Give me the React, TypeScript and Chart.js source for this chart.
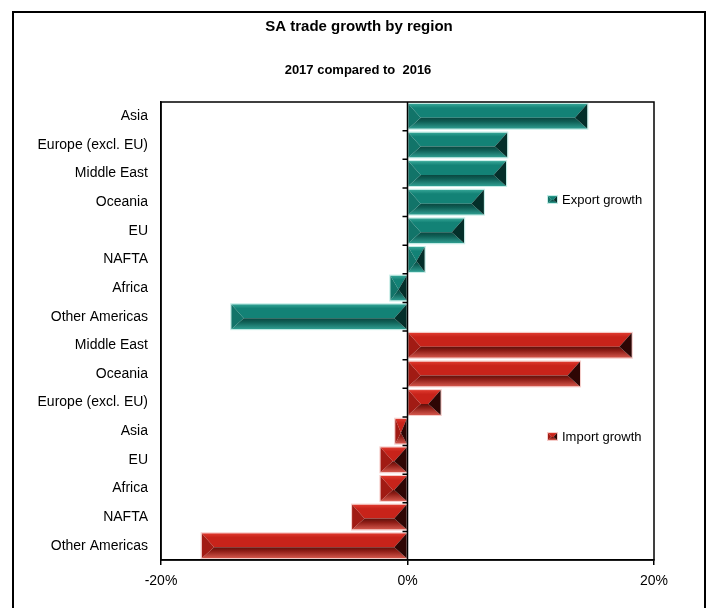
import React, { useEffect, useRef } from "react";
import { Chart, registerables } from "chart.js";

Chart.register(...registerables);

const categories = [
  "Asia",
  "Europe (excl. EU)",
  "Middle East",
  "Oceania",
  "EU",
  "NAFTA",
  "Africa",
  "Other Americas",
  "Middle East",
  "Oceania",
  "Europe (excl. EU)",
  "Asia",
  "EU",
  "Africa",
  "NAFTA",
  "Other Americas",
];

const exportGrowth = [14.6, 8.1, 8.0, 6.2, 4.6, 1.4, -1.4, -14.3, null, null, null, null, null, null, null, null];
const importGrowth = [null, null, null, null, null, null, null, null, 18.2, 14.0, 2.7, -1.0, -2.2, -2.2, -4.5, -16.7];
const xTicks = [-20, 0, 20];
const seriesNames = ["Export growth", "Import growth"];
const titleText = "SA trade growth by region";
const subtitleText = "2017 compared to  2016";

const FONT = "'Liberation Sans', Arial, sans-serif";

type Pal = { topA: string; topB: string; ridge: string; botA: string; botB: string; left: string; right: string; edge: string };
const palettes: Pal[] = [
  { topA: "#35a596", topB: "#138276", ridge: "#0a4740", botA: "#0f5f56", botB: "#2f9e91", left: "#127469", right: "#042f2a", edge: "rgba(190,235,228,0.9)" },
  { topA: "#df3a2e", topB: "#c8231a", ridge: "#5e110c", botA: "#8e1d16", botB: "#d4574c", left: "#a11b14", right: "#2e0604", edge: "rgba(245,200,196,0.9)" },
];

function drawBevel(ctx: CanvasRenderingContext2D, x0: number, x1: number, yt: number, yb: number, p: Pal) {
  const h = yb - yt;
  const w = x1 - x0;
  if (w <= 0) return;
  const ym = yt + h * 0.56;
  const b = Math.min(h * 0.5, w / 2);
  ctx.save();
  let g = ctx.createLinearGradient(0, yt, 0, ym);
  g.addColorStop(0, p.topA);
  g.addColorStop(0.3, p.topB);
  g.addColorStop(1, p.topB);
  ctx.fillStyle = g;
  ctx.beginPath();
  ctx.moveTo(x0, yt);
  ctx.lineTo(x1, yt);
  ctx.lineTo(x1 - b, ym);
  ctx.lineTo(x0 + b, ym);
  ctx.closePath();
  ctx.fill();
  g = ctx.createLinearGradient(0, ym, 0, yb);
  g.addColorStop(0, p.ridge);
  g.addColorStop(0.35, p.botA);
  g.addColorStop(1, p.botB);
  ctx.fillStyle = g;
  ctx.beginPath();
  ctx.moveTo(x0 + b, ym);
  ctx.lineTo(x1 - b, ym);
  ctx.lineTo(x1, yb);
  ctx.lineTo(x0, yb);
  ctx.closePath();
  ctx.fill();
  ctx.fillStyle = p.left;
  ctx.beginPath();
  ctx.moveTo(x0, yt);
  ctx.lineTo(x0 + b, ym);
  ctx.lineTo(x0, yb);
  ctx.closePath();
  ctx.fill();
  ctx.fillStyle = p.right;
  ctx.beginPath();
  ctx.moveTo(x1, yt);
  ctx.lineTo(x1 - b, ym);
  ctx.lineTo(x1, yb);
  ctx.closePath();
  ctx.fill();
  ctx.strokeStyle = p.edge;
  ctx.lineWidth = 1;
  ctx.strokeRect(x0 - 0.5, yt - 0.5, w + 1, h + 1);
  ctx.restore();
}

const bevelPlugin = {
  id: "bevelBars",
  beforeDraw(chart: any) {
    const ctx = chart.ctx;
    ctx.save();
    ctx.fillStyle = "#fff";
    ctx.fillRect(0, 0, chart.width, chart.height);
    ctx.strokeStyle = "#000";
    ctx.lineWidth = 2;
    ctx.strokeRect(13, 12, 692, 700);
    ctx.fillStyle = "#000";
    ctx.textAlign = "center";
    ctx.textBaseline = "middle";
    ctx.font = `bold 15px ${FONT}`;
    ctx.fillText(titleText, 359, 27);
    ctx.font = `bold 13px ${FONT}`;
    ctx.fillText(subtitleText, 358, 70);
    ctx.restore();
  },
  afterDatasetsDraw(chart: any) {
    const ctx = chart.ctx;
    chart.data.datasets.forEach((ds: any, di: number) => {
      const meta = chart.getDatasetMeta(di);
      meta.data.forEach((el: any, i: number) => {
        if (ds.data[i] == null) return;
        const { x, y, base, height } = el.getProps(["x", "y", "base", "height"], true);
        const x0 = Math.min(x, base);
        const x1 = Math.max(x, base);
        drawBevel(ctx, x0, x1, y - height / 2, y + height / 2, palettes[di]);
      });
    });
    const xs = chart.scales.x;
    const ys = chart.scales.y;
    const area = chart.chartArea;
    const x0 = xs.getPixelForValue(0);
    ctx.save();
    ctx.strokeStyle = "#000";
    ctx.lineWidth = 1.5;
    ctx.beginPath();
    ctx.moveTo(x0, area.top);
    ctx.lineTo(x0, area.bottom);
    for (let i = 1; i < categories.length; i++) {
      const yy = (ys.getPixelForValue(i - 1) + ys.getPixelForValue(i)) / 2;
      ctx.moveTo(x0 - 5, yy);
      ctx.lineTo(x0, yy);
    }
    ctx.stroke();
    ctx.strokeRect(area.left, area.top, area.right - area.left, area.bottom - area.top);
    const legendY = [area.top + 98, area.top + 335];
    const lx = area.right - 106;
    seriesNames.forEach((name, di) => {
      const ly = legendY[di];
      drawBevel(ctx, lx, lx + 9, ly - 4, ly + 3, palettes[di]);
      ctx.fillStyle = "#000";
      ctx.font = `13px ${FONT}`;
      ctx.textBaseline = "middle";
      ctx.textAlign = "left";
      ctx.fillText(name, lx + 14, ly);
    });
    ctx.restore();
  },
};

export default function App() {
  const ref = useRef<HTMLCanvasElement>(null);
  useEffect(() => {
    if (!ref.current) return;
    const chart = new Chart(ref.current, {
      type: "bar",
      data: {
        labels: categories,
        datasets: [
          { label: seriesNames[0], data: exportGrowth, backgroundColor: "transparent", borderWidth: 0 },
          { label: seriesNames[1], data: importGrowth, backgroundColor: "transparent", borderWidth: 0 },
        ],
      },
      options: {
        indexAxis: "y",
        responsive: false,
        animation: false,
        devicePixelRatio: 1,
        layout: { padding: { left: 0, right: 64, top: 102, bottom: 0 } },
        datasets: { bar: { grouped: false, barPercentage: 0.87, categoryPercentage: 1 } },
        plugins: {
          legend: { display: false },
          tooltip: { enabled: false },
          title: { display: false },
        },
        scales: {
          x: {
            type: "linear",
            min: -20,
            max: 20,
            afterBuildTicks: (scale: any) => {
              scale.ticks = xTicks.map((v) => ({ value: v }));
            },
            afterFit: (scale: any) => {
              scale.height = 48;
            },
            grid: { display: true, drawOnChartArea: false, drawTicks: true, tickLength: 5, color: "#000", lineWidth: 1.5 },
            border: { display: true, color: "#000", width: 1.5 },
            ticks: {
              color: "#000",
              padding: 8,
              font: { family: FONT, size: 14 },
              callback: (v: any) => `${v}%`,
            },
          },
          y: {
            type: "category",
            afterFit: (scale: any) => {
              scale.width = 161;
            },
            grid: { display: false, drawTicks: false },
            border: { display: true, color: "#000", width: 1.5 },
            ticks: { color: "#000", padding: 13, font: { family: FONT, size: 14 }, autoSkip: false },
          },
        },
      },
      plugins: [bevelPlugin],
    } as any);
    return () => chart.destroy();
  }, []);
  return (
    <div style={{ position: "fixed", left: 0, top: 0, width: 718, height: 608, background: "#fff" }}>
      <canvas ref={ref} width={718} height={608} style={{ width: 718, height: 608, display: "block" }} />
    </div>
  );
}
